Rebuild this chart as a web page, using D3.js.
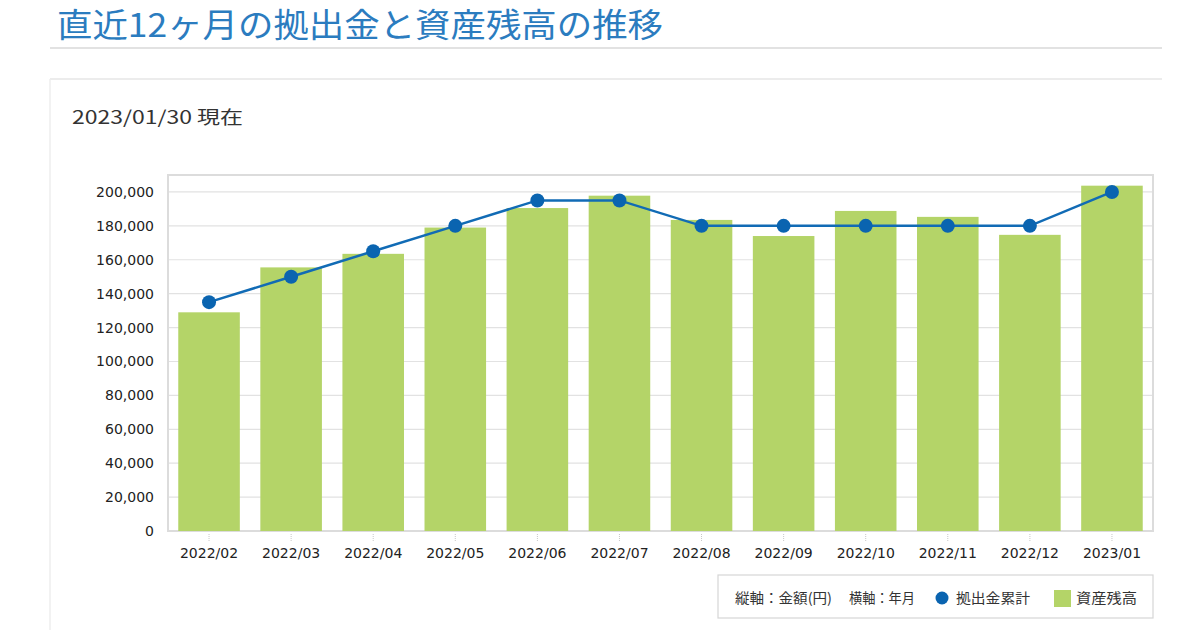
<!DOCTYPE html>
<html>
<head>
<meta charset="utf-8">
<script src="https://cdn.jsdelivr.net/npm/d3@7"></script>
<style>
  body { margin: 0; background: #fff; }
  svg text { font-family: "DejaVu Sans", Arial, "Noto Sans CJK JP", sans-serif; }
  .jp { font-family: "Noto Sans CJK JP", sans-serif; }
</style>
</head>
<body>
<div id="dataviz"></div>
<script>
// data
const months = ["2022/02","2022/03","2022/04","2022/05","2022/06","2022/07",
                "2022/08","2022/09","2022/10","2022/11","2022/12","2023/01"];
const assets = [129000,155500,163500,179000,190500,197800,183500,174000,188800,185300,174700,203700];
const contrib = [135000,150000,165000,180000,195000,195000,180000,180000,180000,180000,180000,200000];
const yTicks = [0,20000,40000,60000,80000,100000,120000,140000,160000,180000,200000];

const W = 1200, H = 630;
const margin = {top: 175, right: 47, bottom: 99, left: 168},
    width = W - margin.left - margin.right,
    height = H - margin.top - margin.bottom;

const root = d3.select("#dataviz").append("svg")
    .attr("width", W).attr("height", H);

// page header
root.append("text").attr("class", "jp")
    .attr("x", 57).attr("y", 37)
    .attr("font-size", 33).attr("fill", "#2b7cbf")
    .attr("textLength", 606).attr("lengthAdjust", "spacingAndGlyphs")
    .text("直近12ヶ月の拠出金と資産残高の推移");
root.append("line").attr("x1", 50).attr("x2", 1162).attr("y1", 48).attr("y2", 48)
    .attr("stroke", "#d9d9d9").attr("stroke-width", 1.5);
root.append("line").attr("x1", 50).attr("x2", 1162).attr("y1", 79).attr("y2", 79)
    .attr("stroke", "#e6e6e6").attr("stroke-width", 1.5);
root.append("line").attr("x1", 50).attr("x2", 50).attr("y1", 79).attr("y2", 630)
    .attr("stroke", "#eeeeee").attr("stroke-width", 1.5);
root.append("text").attr("class", "jp")
    .attr("x", 72).attr("y", 124)
    .attr("font-size", 18).attr("fill", "#333")
    .attr("textLength", 171).attr("lengthAdjust", "spacingAndGlyphs")
    .text("2023/01/30 現在");

let svg = root.append("g")
    .attr("transform", `translate(${margin.left}, ${margin.top})`);

const xScale = d3.scaleBand()
    .domain(months)
    .range([0, width])
    .paddingInner(0.25)
    .paddingOuter(0.125);

const yScale = d3.scaleLinear()
    .domain([0, 210000])
    .range([height, 0]);

// gridlines
svg.append("g").selectAll("line").data(yTicks).join("line")
    .attr("x1", 0).attr("x2", width)
    .attr("y1", d => yScale(d)).attr("y2", d => yScale(d))
    .attr("stroke", "#e2e2e2").attr("stroke-width", 1.2);

// frame
svg.append("rect").attr("x", 0).attr("y", 0).attr("width", width).attr("height", height)
    .attr("fill", "none").attr("stroke", "#dcdcdc").attr("stroke-width", 2);

// y axis labels
const yAxis = d3.axisLeft(yScale).tickValues(yTicks).tickFormat(d3.format(",")).tickSize(0).tickPadding(14);
svg.append("g").call(yAxis)
    .call(g => g.select(".domain").remove())
    .call(g => g.selectAll("text").attr("font-size", 14).attr("fill", "#222")
        .style("font-family", "'DejaVu Sans', sans-serif"));

// bars
svg.append("g").selectAll("rect").data(months).join("rect")
    .attr("x", d => xScale(d))
    .attr("y", (d, i) => yScale(assets[i]))
    .attr("width", xScale.bandwidth())
    .attr("height", (d, i) => height - yScale(assets[i]))
    .attr("fill", "#b4d468");

// x axis
const xAxis = d3.axisBottom(xScale).tickSize(0).tickPadding(17);
svg.append("g").attr("transform", `translate(0, ${height})`).call(xAxis)
    .call(g => g.select(".domain").remove())
    .call(g => g.selectAll("text").attr("font-size", 14).attr("fill", "#222")
        .style("font-family", "'DejaVu Sans', sans-serif"));
svg.append("g").selectAll("line").data(months).join("line")
    .attr("x1", d => xScale(d) + xScale.bandwidth() / 2)
    .attr("x2", d => xScale(d) + xScale.bandwidth() / 2)
    .attr("y1", height + 3).attr("y2", height + 10)
    .attr("stroke", "#c8c8c8").attr("stroke-dasharray", "1,1");

// line + dots
const cx = d => xScale(d) + xScale.bandwidth() / 2;
const line = d3.line().x(d => cx(d)).y((d, i) => yScale(contrib[i]));
svg.append("path").datum(months)
    .attr("d", line)
    .attr("fill", "none").attr("stroke", "#116bb5").attr("stroke-width", 2.5);
svg.append("g").selectAll("circle").data(months).join("circle")
    .attr("cx", cx)
    .attr("cy", (d, i) => yScale(contrib[i]))
    .attr("r", 7)
    .attr("fill", "#0a64b0");

// legend
const lg = root.append("g");
lg.append("rect").attr("x", 718).attr("y", 575).attr("width", 435).attr("height", 43)
    .attr("fill", "#fff").attr("stroke", "#d6d6d6").attr("stroke-width", 1.2);
const legendTexts = [
  {t: "縦軸：金額(円)", x: 735, w: 97},
  {t: "横軸：年月", x: 849, w: 66},
  {t: "拠出金累計", x: 956, w: 74},
  {t: "資産残高", x: 1076, w: 61}
];
lg.selectAll("text").data(legendTexts).join("text").attr("class", "jp")
    .attr("x", d => d.x).attr("y", 603)
    .attr("font-size", 14).attr("fill", "#333")
    .attr("textLength", d => d.w).attr("lengthAdjust", "spacingAndGlyphs")
    .text(d => d.t);
lg.append("circle").attr("cx", 942).attr("cy", 598).attr("r", 6.5).attr("fill", "#0a64b0");
lg.append("rect").attr("x", 1054).attr("y", 590).attr("width", 17).attr("height", 17)
    .attr("fill", "#b4d468");
</script>
</body>
</html>
